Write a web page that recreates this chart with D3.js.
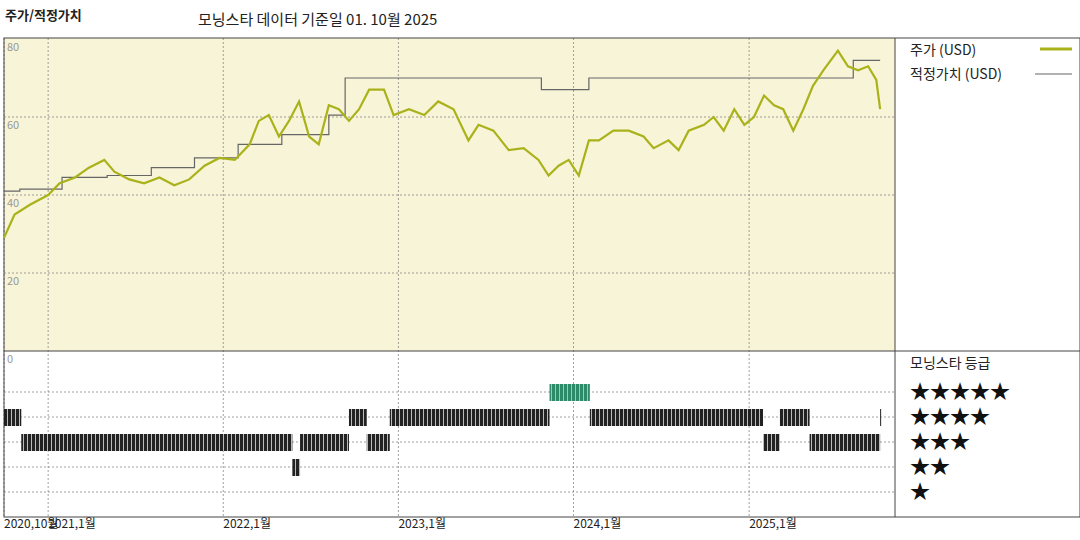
<!DOCTYPE html><html><head><meta charset="utf-8">
<script src="https://cdn.jsdelivr.net/npm/d3@7"></script>
<style>body{margin:0;background:#fff}text{font-family:"Noto Sans CJK KR","DejaVu Sans",sans-serif}</style></head><body>
<svg id="c" width="1080" height="540"></svg>
<script>
const priceDates=["2020-10-01","2020-10-23","2020-11-24","2021-01-01","2021-01-25","2021-02-26","2021-03-27","2021-04-28","2021-05-19","2021-06-19","2021-07-20","2021-08-21","2021-09-21","2021-10-22","2021-11-23","2021-12-24","2022-01-25","2022-02-25","2022-03-16","2022-04-06","2022-04-27","2022-05-18","2022-06-08","2022-06-29","2022-07-19","2022-08-09","2022-08-30","2022-09-20","2022-10-11","2022-11-01","2022-12-02","2022-12-22","2023-01-23","2023-02-24","2023-03-25","2023-04-26","2023-05-27","2023-06-17","2023-07-18","2023-08-19","2023-09-19","2023-10-20","2023-11-10","2023-12-01","2023-12-22","2024-01-12","2024-02-02","2024-02-23","2024-03-24","2024-04-25","2024-05-26","2024-06-16","2024-07-17","2024-08-07","2024-08-28","2024-09-29","2024-10-19","2024-11-09","2024-12-01","2024-12-22","2025-01-11","2025-02-01","2025-02-22","2025-03-13","2025-04-03","2025-04-24","2025-05-14","2025-06-05","2025-07-05","2025-07-26","2025-08-16","2025-09-06","2025-09-23","2025-10-01"];
const priceValues=[29,35,37.5,40,43,44.5,47,49,46,44,43,44.5,42.5,44,47.5,49.5,49,53,59,60.5,55,59,64,55,53,63,62,59,62,67,67,60.5,62,60.5,64,62,54,58,56.5,51.5,52,49,45,47.5,49,45,54,54,56.5,56.5,55,52,54,51.5,56.5,58,60,56.5,62,58,60,65.5,63,62,56.5,62,68,72,77,73,72,73,69.5,62];
const fairDates=["2020-10-01","2020-11-03","2021-01-30","2021-05-04","2021-08-04","2021-11-02","2022-02-01","2022-05-03","2022-08-09","2022-09-12","2023-10-26","2024-02-02","2025-08-06","2025-10-01"];
const fairValues=[41,41.5,44.5,45,47,49.5,53,55.5,60.5,70,67,70,74.5,74.5];
const ratingStart=["2020-10-01","2020-11-06","2022-05-25","2022-06-10","2022-09-20","2022-10-27","2022-12-14","2023-11-12","2024-02-04","2025-01-30","2025-03-06","2025-05-07","2025-05-12","2025-10-01"];
const ratingEnd=["2020-11-06","2022-05-25","2022-06-10","2022-09-20","2022-10-27","2022-12-14","2023-11-12","2024-02-04","2025-01-30","2025-03-06","2025-05-07","2025-05-12","2025-10-01","2025-10-02"];
const ratingStars=[4,3,2,3,4,3,4,5,4,3,4,3,3,4];
const yTicks=[0,20,40,60,80];
const xTickDates=["2020-10-01","2021-01-01","2022-01-01","2023-01-01","2024-01-01","2025-01-01"];
const xTickLabels=["2020,10월","2021,1월","2022,1월","2023,1월","2024,1월","2025,1월"];
const starLabels=["★★★★★","★★★★","★★★","★★","★"];

const P=d3.timeParse("%Y-%m-%d");
const svg=d3.select("#c");
const L=4,R=895,T=38,B=351,RB=517;
const x=d3.scaleTime().domain([P("2020-10-01"),P("2025-11-01")]).range([L,R]);
const y=d3.scaleLinear().domain([0,80]).range([B,39]);
const ry=d3.scaleLinear().domain([5,1]).range([392,492]);

svg.append("rect").attr("x",L).attr("y",T).attr("width",R-L).attr("height",B-T).attr("fill","#f8f4d8");
const g=svg.append("g").attr("stroke","#888").attr("stroke-dasharray","2,2").attr("stroke-width",0.8);
xTickDates.forEach(d=>g.append("line").attr("x1",x(P(d))).attr("x2",x(P(d))).attr("y1",T).attr("y2",RB));
yTicks.filter(v=>v>0&&v<80).forEach(v=>g.append("line").attr("x1",L).attr("x2",R).attr("y1",y(v)).attr("y2",y(v)));
[5,4,3,2,1].forEach(s=>g.append("line").attr("x1",L).attr("x2",R).attr("y1",ry(s)).attr("y2",ry(s)));
svg.append("rect").attr("x",L).attr("y",T).attr("width",1080-L).attr("height",RB-T).attr("fill","none").attr("stroke","#444");
svg.append("line").attr("x1",R).attr("x2",R).attr("y1",T).attr("y2",RB).attr("stroke","#444");
svg.append("line").attr("x1",L).attr("x2",1080).attr("y1",B).attr("y2",B).attr("stroke","#444");
yTicks.forEach(v=>svg.append("text").attr("x",7).attr("y",(v==0?B:y(v))+12).attr("font-size",11).attr("fill","#999").text(v));
const fair=fairDates.map((d,i)=>[P(d),fairValues[i]]);
svg.append("path").datum(fair).attr("d",d3.line().x(d=>x(d[0])).y(d=>y(d[1])).curve(d3.curveStepAfter)).attr("fill","none").attr("stroke","#666").attr("stroke-width",1.2);
const pr=priceDates.map((d,i)=>[P(d),priceValues[i]]);
svg.append("path").datum(pr).attr("d",d3.line().x(d=>x(d[0])).y(d=>y(d[1]))).attr("fill","none").attr("stroke","#aab21a").attr("stroke-width",2.2);
const defs=svg.append("defs");
function pat(id,c){const p=defs.append("pattern").attr("id",id).attr("width",4).attr("height",10).attr("patternUnits","userSpaceOnUse");
p.append("rect").attr("width",4).attr("height",10).attr("fill",c);p.append("rect").attr("x",3).attr("width",1).attr("height",10).attr("fill","#bbb");}
pat("pd","#222");pat("pg","#2e8b6a");
ratingStars.forEach((s,i)=>{const x0=x(P(ratingStart[i])),x1=x(P(ratingEnd[i]));
svg.append("rect").attr("x",x0).attr("y",ry(s)-8).attr("width",Math.max(1,x1-x0)).attr("height",17).attr("fill",s==5?"url(#pg)":"url(#pd)");});
xTickDates.forEach((d,i)=>svg.append("text").attr("x",x(P(d))).attr("y",528).attr("font-size",12).attr("fill","#222").text(xTickLabels[i]));
svg.append("text").attr("x",5).attr("y",20).attr("font-size",13).attr("font-weight","bold").attr("fill","#222").text("주가/적정가치");
svg.append("text").attr("x",198).attr("y",25).attr("font-size",15).attr("fill","#222").text("모닝스타 데이터 기준일 01. 10월 2025");
svg.append("text").attr("x",910).attr("y",55).attr("font-size",14).attr("fill","#222").text("주가 (USD)");
svg.append("line").attr("x1",1040).attr("x2",1072).attr("y1",49).attr("y2",49).attr("stroke","#aab21a").attr("stroke-width",3);
svg.append("text").attr("x",910).attr("y",79).attr("font-size",14).attr("fill","#222").text("적정가치 (USD)");
svg.append("line").attr("x1",1035).attr("x2",1072).attr("y1",74).attr("y2",74).attr("stroke","#666").attr("stroke-width",1.2);
svg.append("text").attr("x",910).attr("y",368).attr("font-size",14).attr("fill","#222").text("모닝스타 등급");
starLabels.forEach((s,i)=>svg.append("text").attr("x",910).attr("y",ry(5-i)+7).attr("font-size",20).attr("fill","#111").attr("font-family","DejaVu Sans").text(s));
</script></body></html>
